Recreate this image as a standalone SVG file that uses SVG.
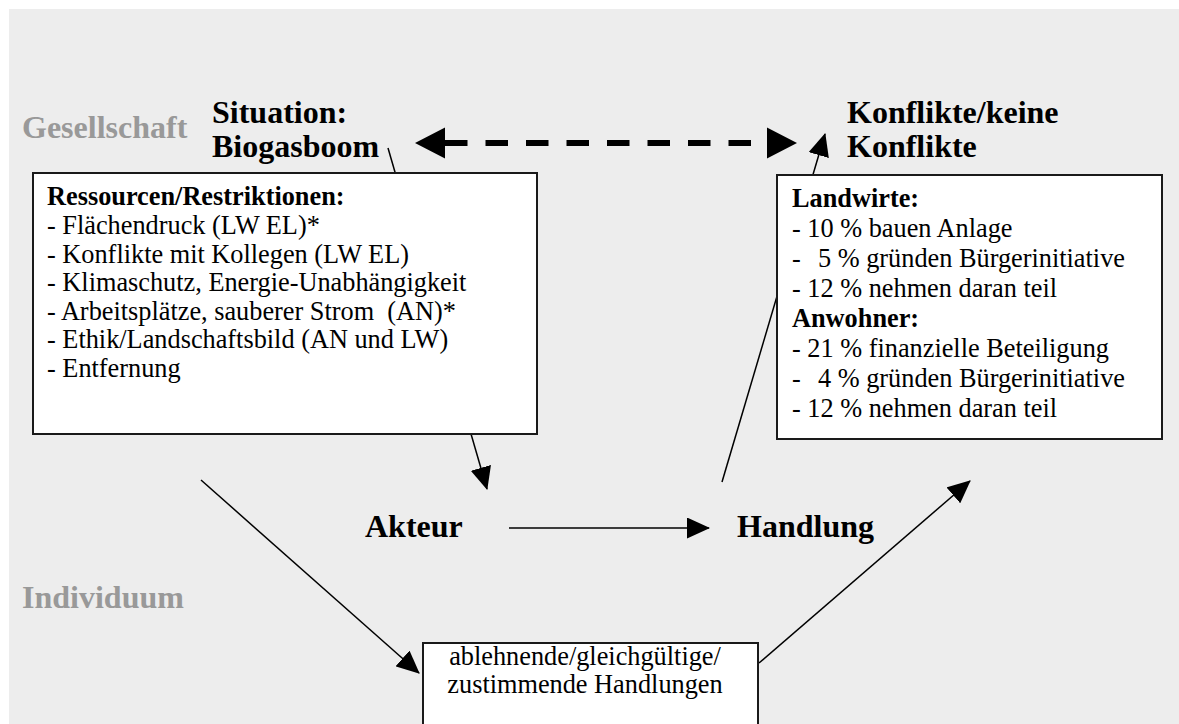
<svg xmlns="http://www.w3.org/2000/svg" width="1179" height="724" viewBox="0 0 1179 724">
<style>
text{font-family:"Liberation Serif","Times New Roman",serif;fill:#000}
.h{font-size:32px;font-weight:bold}
.g{font-size:32px;font-weight:bold;fill:#999999}
.t{font-size:26.3px}
.b{font-size:26.3px;font-weight:bold}
.box{fill:#fff;stroke:#1a1a1a;stroke-width:2}
.ln{stroke:#000;stroke-width:1.5;fill:none}
</style>
<defs>
<marker id="ah" markerUnits="userSpaceOnUse" markerWidth="23" markerHeight="21" viewBox="0 0 23 21" refX="22" refY="10.5" orient="auto">
<path d="M0,0 L23,10.5 L0,21 z" fill="#000"/>
</marker>
</defs>
<rect x="9" y="9" width="1170" height="715" fill="#ededed"/>
<g id="connectors">
<line class="ln" x1="388" y1="148" x2="487" y2="489" marker-end="url(#ah)"/>
<line class="ln" x1="509" y1="528" x2="709" y2="528" marker-end="url(#ah)"/>
<line class="ln" x1="722" y1="482" x2="825" y2="134" marker-end="url(#ah)"/>
<line class="ln" x1="201" y1="480" x2="419" y2="673" marker-end="url(#ah)"/>
<line class="ln" x1="759" y1="663" x2="970" y2="481" marker-end="url(#ah)"/>
<line x1="445" y1="143" x2="767" y2="143" stroke="#000" stroke-width="6" stroke-dasharray="22.5 18"/>
<polygon points="415,143 445,127.5 445,158.5" fill="#000"/>
<polygon points="797,143 767,127.5 767,158.5" fill="#000"/>
</g>
<g id="label-gesellschaft"><text class="g" x="22" y="138">Gesellschaft</text></g>
<g id="label-individuum"><text class="g" x="22" y="608">Individuum</text></g>
<g id="situation">
<text class="h" x="212" y="123">Situation:</text>
<text class="h" x="212" y="157">Biogasboom</text>
</g>
<g id="konflikte">
<text class="h" x="847" y="123">Konflikte/keine</text>
<text class="h" x="847" y="157">Konflikte</text>
</g>
<g id="ressourcen">
<rect class="box" x="33" y="173" width="504" height="261"/>
<text class="b" x="47" y="205">Ressourcen/Restriktionen:</text>
<text class="t" x="47" y="234">- Flächendruck (LW EL)*</text>
<text class="t" x="47" y="262.5">- Konflikte mit Kollegen (LW EL)</text>
<text class="t" x="47" y="291">- Klimaschutz, Energie-Unabhängigkeit</text>
<text class="t" x="47" y="319.5">- Arbeitsplätze, sauberer Strom <tspan dx="6.5">(AN)*</tspan></text>
<text class="t" x="47" y="348">- Ethik/Landschaftsbild (AN und LW)</text>
<text class="t" x="47" y="376.5">- Entfernung</text>
</g>
<g id="ergebnisse">
<rect class="box" x="777" y="175" width="385" height="264"/>
<text class="b" x="792" y="207">Landwirte:</text>
<text class="t" x="792" y="237">- 10 % bauen Anlage</text>
<text class="t" x="792" y="267">-<tspan x="818">5 % gründen Bürgerinitiative</tspan></text>
<text class="t" x="792" y="297">- 12 % nehmen daran teil</text>
<text class="b" x="792" y="327">Anwohner:</text>
<text class="t" x="792" y="357">- 21 % finanzielle Beteiligung</text>
<text class="t" x="792" y="387">-<tspan x="818">4 % gründen Bürgerinitiative</tspan></text>
<text class="t" x="792" y="417">- 12 % nehmen daran teil</text>
</g>
<g id="akteur"><text class="h" x="365" y="537">Akteur</text></g>
<g id="handlung"><text class="h" x="737" y="537">Handlung</text></g>
<g id="handlungen">
<rect class="box" x="423" y="643" width="335" height="95"/>
<text class="t" x="585" y="665" text-anchor="middle">ablehnende/gleichgültige/</text>
<text class="t" x="585" y="693" text-anchor="middle">zustimmende Handlungen</text>
</g>
</svg>
